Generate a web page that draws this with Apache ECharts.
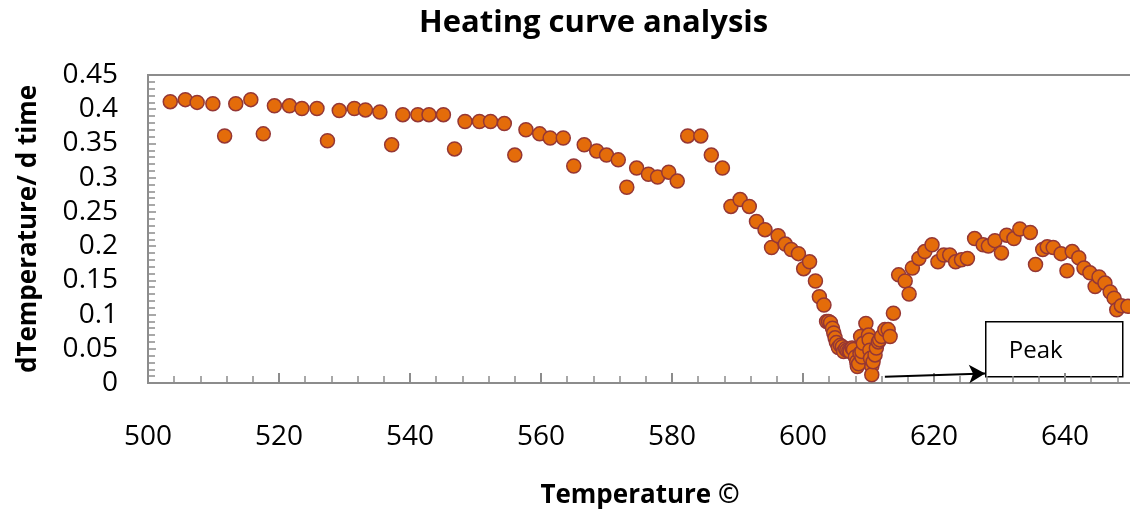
<!DOCTYPE html>
<html>
<head>
<meta charset="utf-8">
<script src="https://cdn.jsdelivr.net/npm/echarts@6/dist/echarts.min.js"></script>
<style>
html,body{margin:0;padding:0;background:#fff;}
#chart{width:1130px;height:512px;}
</style>
</head>
<body>
<div id="chart"></div>
<script>
// Temperature (°C) readings
var temperature = [
503.4,505.7,507.5,509.9,511.7,513.4,515.7,517.6,519.3,521.6,
523.5,525.8,527.4,529.2,531.5,533.2,535.4,537.2,538.9,541.2,
542.9,545.1,546.8,548.4,550.6,552.3,554.4,556.0,557.7,559.8,
561.4,563.4,565.0,566.6,568.5,570.0,571.8,573.1,574.6,576.4,
577.8,579.5,580.8,582.4,584.4,586.0,587.7,589.0,590.4,591.8,
592.9,594.2,595.2,596.2,597.3,598.2,599.3,600.1,601.0,601.9,
602.5,603.2,603.6,603.9,604.2,604.5,604.7,604.9,605.1,605.4,
605.7,606.0,606.2,606.5,606.7,607.0,607.2,607.5,607.7,608.0,
608.2,608.3,608.5,608.7,608.8,609.0,609.0,609.2,609.6,610.0,
610.1,610.2,610.3,610.5,610.5,610.7,611.0,611.2,611.5,611.7,
612.0,612.5,613.0,613.3,613.8,614.6,615.6,616.2,616.7,617.7,
618.6,619.7,620.6,621.5,622.4,623.3,624.2,625.1,626.2,627.5,
628.3,629.3,630.3,631.1,632.2,633.1,634.7,635.5,636.6,637.3,
638.2,639.4,640.3,641.1,642.1,642.9,643.8,644.6,645.2,646.1,
646.9,647.5,647.9,648.6,649.6
];
// dTemperature / d time values
var dTdt = [
0.411,0.414,0.410,0.408,0.361,0.408,0.414,0.364,0.405,0.405,
0.401,0.401,0.354,0.398,0.401,0.399,0.396,0.348,0.392,0.392,
0.392,0.392,0.342,0.382,0.382,0.382,0.379,0.333,0.370,0.364,
0.358,0.358,0.317,0.348,0.339,0.333,0.326,0.286,0.314,0.305,
0.301,0.308,0.295,0.361,0.361,0.333,0.314,0.258,0.268,0.258,
0.236,0.224,0.198,0.215,0.203,0.195,0.189,0.167,0.177,0.149,
0.126,0.114,0.090,0.090,0.088,0.080,0.073,0.066,0.059,0.052,
0.055,0.053,0.046,0.050,0.048,0.047,0.046,0.051,0.049,0.038,
0.031,0.024,0.028,0.043,0.068,0.038,0.046,0.058,0.087,0.070,
0.063,0.048,0.036,0.024,0.012,0.031,0.041,0.051,0.060,0.063,
0.068,0.078,0.078,0.068,0.102,0.158,0.149,0.130,0.168,0.182,
0.192,0.202,0.177,0.187,0.187,0.177,0.180,0.182,0.211,0.202,
0.200,0.208,0.190,0.216,0.211,0.225,0.220,0.173,0.195,0.199,
0.198,0.189,0.164,0.192,0.183,0.168,0.161,0.141,0.155,0.146,
0.133,0.124,0.107,0.113,0.112
];
var titleText = "Heating curve analysis";
var xName = "Temperature ©";
var yName = "dTemperature/ d time";
var annotationText = "Peak";
var arrowFrom = [612.5, 0.009];
var arrowTo = [627.8, 0.014];

var points = temperature.map(function (t, i) { return [t, dTdt[i]]; });
var FONT = "'Open Sans', 'Noto Sans', sans-serif";

var chart = echarts.init(document.getElementById('chart'), null, {renderer: 'canvas'});
chart.setOption({
  animation: false,
  backgroundColor: '#ffffff',
  title: {
    text: titleText,
    left: 414,
    top: 3,
    textStyle: {fontFamily: FONT, fontSize: 31, fontWeight: 'bold', color: '#000'}
  },
  grid: {
    left: 148, top: 75, height: 308, width: 1048,
    outerBoundsMode: 'none',
    containLabel: false,
    show: true, borderColor: '#8c8c8c', borderWidth: 2, backgroundColor: 'transparent'
  },
  xAxis: {
    type: 'value', min: 500, max: 660, interval: 20,
    name: xName, nameLocation: 'middle', nameGap: 100,
    nameTextStyle: {fontFamily: FONT, fontSize: 26, fontWeight: 'bold', color: '#000', padding: [0, 64, 0, 0]},
    axisLine: {show: true, lineStyle: {color: '#8c8c8c', width: 2}},
    axisTick: {show: true, inside: true, length: 10, lineStyle: {color: '#8c8c8c', width: 2}},
    minorTick: {show: true, splitNumber: 5, length: 7, lineStyle: {color: '#8c8c8c', width: 1.5}},
    splitLine: {show: false},
    axisLabel: {fontFamily: FONT, fontSize: 28, color: '#000', margin: 40, showMaxLabel: false}
  },
  yAxis: {
    type: 'value', min: 0, max: 0.45, interval: 0.05,
    name: yName, nameLocation: 'middle', nameGap: 106,
    nameTextStyle: {fontFamily: FONT, fontSize: 26, fontWeight: 'bold', color: '#000'},
    axisLine: {show: true, lineStyle: {color: '#8c8c8c', width: 2}},
    axisTick: {show: true, inside: true, length: 8, lineStyle: {color: '#8c8c8c', width: 1.5}},
    minorTick: {show: true, splitNumber: 5, length: 7, lineStyle: {color: '#8c8c8c', width: 1.5}},
    splitLine: {show: false},
    axisLabel: {fontFamily: FONT, fontSize: 28, color: '#000', margin: 30}
  },
  series: [{
    type: 'scatter',
    data: points,
    symbol: 'circle',
    symbolSize: 14,
    clip: false,
    itemStyle: {color: '#E46C0A', borderColor: '#953735', borderWidth: 1.5, opacity: 1},
    markLine: {
      silent: true,
      symbol: ['none', 'arrow'],
      symbolSize: [14, 16],
      label: {show: false},
      lineStyle: {color: '#000', width: 2, type: 'solid'},
      data: [[{coord: arrowFrom}, {coord: arrowTo}]]
    }
  }],
  graphic: [{
    type: 'group',
    left: 985, top: 321,
    children: [{
      type: 'rect',
      shape: {x: 0, y: 0, width: 137, height: 55},
      style: {fill: '#fff', stroke: '#000', lineWidth: 1.5}
    }, {
      type: 'text',
      x: 23, y: 29,
      style: {text: annotationText, fontFamily: FONT, fontSize: 24, fill: '#000', verticalAlign: 'middle', align: 'left'}
    }]
  }]
});
</script>
</body>
</html>
